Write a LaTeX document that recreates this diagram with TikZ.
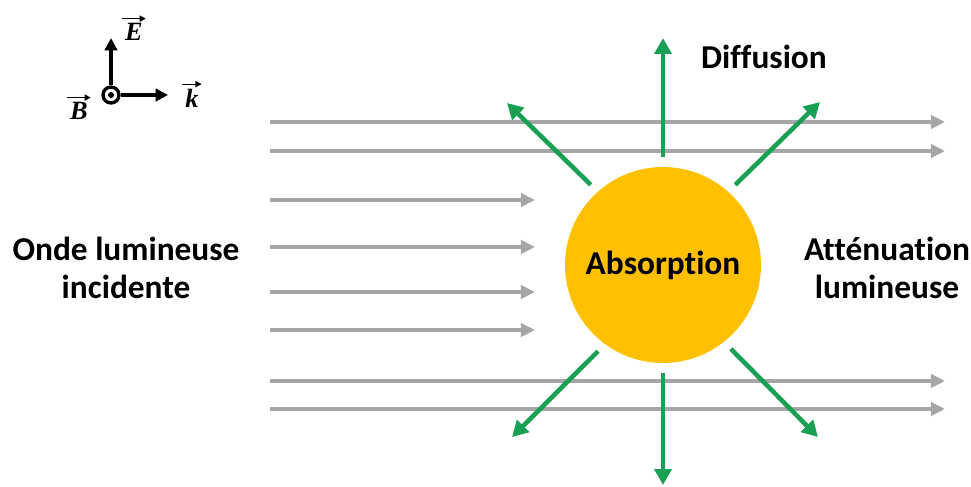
\documentclass[tikz,border=0pt]{standalone}
\usepackage{fontspec}
\setmainfont{Carlito}[Ligatures=NoCommon]
\newfontfamily\timesfont{Liberation Serif}
\usetikzlibrary{arrows.meta}

\definecolor{Craygrey}{HTML}{A6A6A6}
\definecolor{Cdiffgreen}{HTML}{1AA055}
\definecolor{Cabsgold}{HTML}{FFC000}

\tikzset{
  ray/.style={line width=2.1pt,Craygrey,-{Triangle[length=8pt,width=7.5pt]}},
  scat/.style={line width=2.6pt,Cdiffgreen,-{Triangle[length=9pt,width=9.5pt]}},
  axe/.style={line width=1.9pt,black,-{Triangle[length=7pt,width=7pt]}},
  vecarrow/.style={line width=0.7pt,black,-{Triangle[length=3.5pt,width=3.5pt]}},
  lbl/.style={font=\fontsize{19}{21.5}\selectfont\bfseries,align=center,inner sep=0pt},
  veclabel/.style={font=\timesfont\fontsize{15}{17}\selectfont\bfseries\itshape,inner sep=0pt},
}

\begin{document}
\begin{tikzpicture}[x=0.02cm,y=-0.02cm]
	\useasboundingbox (0,0) rectangle (971,487);

	% repere
	\node[circle,draw,line width=1.9pt,minimum size=0.32cm,inner sep=0pt] (orig) at (111,95) {};
	\fill (orig) circle (3);
	\coordinate (Etip) at (111,38);
	\coordinate (ktip) at (168,95);
	\draw[axe] (orig.north) -- (Etip);
	\draw[axe] (orig.east) -- (ktip);
	\node[veclabel] (Elbl) at (134,32) {E};
	\node[veclabel] (klbl) at (192,98) {k};
	\node[veclabel] (Blbl) at (79,111) {B};
	\foreach \n in {Elbl,klbl,Blbl}
		\draw[vecarrow] ([xshift=-1.5pt,yshift=2.5pt]\n.north west) -- ([xshift=1.5pt,yshift=2.5pt]\n.north east);

	% rayons incidents
	\foreach \i/\y/\e in {1/122/945,2/151/945,3/200/535,4/247/535,5/292/535,6/330/535,7/381/945,8/409/945}{
		\coordinate (rayS\i) at (270,\y);
		\coordinate (rayE\i) at (\e,\y);
		\draw[ray] (rayS\i) -- (rayE\i);
	}

	% particule
	\node[circle,fill=Cabsgold,minimum size=3.92cm,inner sep=0pt,outer sep=0.2cm,lbl] (absorb) at (663,265) {Absorption};

	% diffusion
	\coordinate (dN) at (663,38);
	\coordinate (dNW) at (507,103);
	\coordinate (dNE) at (820,102);
	\coordinate (dSW) at (512,437);
	\coordinate (dS) at (663,485);
	\coordinate (dSE) at (818,437);
	\draw[scat] (absorb.90) -- (dN);
	\draw[scat] (absorb.132) -- (dNW);
	\draw[scat] (absorb.48) -- (dNE);
	\draw[scat] (absorb.233) -- (dSW);
	\draw[scat] (absorb.270) -- (dS);
	\draw[scat] (absorb.309) -- (dSE);

	\node[lbl] (diff) at (764,57) {Diffusion};
	\node[lbl] (onde) at (126,268) {Onde lumineuse\\incidente};
	\node[lbl] (atten) at (887,268) {Atténuation\\lumineuse};
\end{tikzpicture}
\end{document}
